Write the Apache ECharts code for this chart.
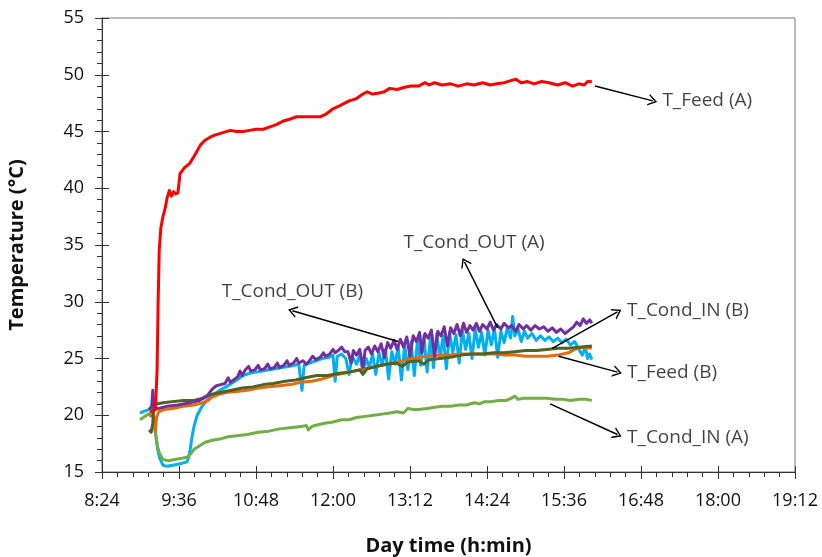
<!DOCTYPE html>
<html>
<head>
<meta charset="utf-8">
<script src="https://cdn.jsdelivr.net/npm/echarts@6/dist/echarts.min.js"></script>
<style>
  html, body { margin: 0; padding: 0; background: #fff; }
  #chart { width: 822px; height: 557px; }
</style>
</head>
<body>
<div id="chart"></div>
<script>
// x values are minutes after midnight (8:24 = 504, 19:12 = 1152)
const xTicks = { min: 504, max: 1152, step: 72 }
const yTicks = { min: 15, max: 55, step: 5 }

// T_Feed (A)
const feedA = [
  [549, 20.3], [554, 20.5], [555.5, 24], [556.5, 30], [557.5, 34.5], [559, 36.5], [561, 37.5], [563, 38.2],
  [565, 39.2], [567, 39.8], [569, 39.3], [571, 39.7], [573, 39.5], [575, 39.6], [577, 41.3], [581, 41.8],
  [586, 42.2], [590, 42.8], [596, 43.8], [600, 44.2], [605, 44.5], [610, 44.7], [617, 44.9], [624, 45.1],
  [630, 45.0], [636, 45.0], [642, 45.1], [648, 45.2], [655, 45.2], [661, 45.4], [667, 45.6], [673, 45.9],
  [680, 46.1], [686, 46.3], [693, 46.3], [700, 46.3], [708, 46.3], [713, 46.5], [720, 47.0], [727, 47.3],
  [735, 47.7], [742, 47.9], [748, 48.3], [752, 48.5], [757, 48.3], [763, 48.4], [768, 48.5], [773, 48.8],
  [780, 48.7], [787, 48.9], [793, 49.0], [800, 49.0], [806, 49.3], [810, 49.1], [815, 49.3], [822, 49.1],
  [830, 49.2], [837, 49.0], [845, 49.2], [852, 49.1], [860, 49.3], [867, 49.1], [873, 49.2], [880, 49.3],
  [887, 49.5], [891, 49.6], [896, 49.3], [902, 49.4], [908, 49.2], [915, 49.4], [922, 49.3], [930, 49.1],
  [937, 49.3], [944, 49.0], [950, 49.2], [955, 49.1], [958, 49.4], [962, 49.4]
]

// T_Cond_IN (A)
const condInA = [
  [539.5, 19.6], [544, 19.9], [549, 20.2], [552, 19.8], [554, 18.4], [556, 17.2], [558, 16.6], [561, 16.1],
  [566, 16.0], [572, 16.1], [578, 16.2], [583.5, 16.3], [587, 16.6], [590, 17.0], [595, 17.3], [600, 17.6],
  [607, 17.8], [614, 17.9], [622, 18.1], [630, 18.2], [640, 18.3], [650, 18.5], [660, 18.6], [670, 18.8],
  [680, 18.9], [690, 19.0], [695, 19.1], [697, 18.7], [700, 19.0], [703, 19.1], [712, 19.3], [720, 19.4],
  [728, 19.6], [735, 19.6], [742, 19.8], [750, 19.9], [758, 20.0], [766, 20.1], [773, 20.2], [780, 20.3],
  [786, 20.2], [790, 20.6], [795, 20.5], [800, 20.5], [808, 20.6], [815, 20.7], [822, 20.8], [830, 20.8],
  [838, 20.9], [845, 20.9], [852, 21.1], [857, 21.0], [862, 21.2], [868, 21.2], [875, 21.3], [882, 21.3],
  [887, 21.5], [890, 21.7], [893, 21.4], [898, 21.5], [905, 21.5], [912, 21.5], [920, 21.5], [928, 21.4],
  [935, 21.4], [942, 21.3], [950, 21.4], [957, 21.4], [962, 21.3]
]

// T_Cond_OUT (A)
const condOutA = [
  [539.5, 20.2], [545, 20.4], [548, 20.5], [550, 20.7], [552, 20.3], [554, 18.5], [556, 17.0], [558, 16.2],
  [561, 15.6], [565, 15.5], [570, 15.6], [576, 15.7], [580, 15.8], [583.5, 15.9], [585, 16.3], [586.5, 17.0],
  [588, 18.0], [590, 19.0], [593, 20.0], [597, 20.7], [601, 21.2], [605, 21.6], [610, 21.9], [614, 22.2],
  [620, 22.5], [625, 22.8], [630, 23.1], [636, 23.5], [642, 23.7], [648, 23.8], [654, 23.9], [660, 24.0],
  [666, 24.1], [672, 24.2], [678, 24.3], [684, 24.4], [688, 24.5], [691, 22.2], [693, 24.4], [698, 24.6],
  [704, 24.8], [710, 25.0], [716, 25.1], [720, 25.3], [722, 23.0], [724, 25.2], [728, 25.4], [732, 25.0],
  [735, 23.6], [738, 25.2], [742, 24.5], [745, 25.3], [748, 23.8], [751, 25.0], [754, 24.2], [757, 25.4],
  [760, 23.6], [763, 25.5], [766, 24.4], [769, 25.8], [772, 23.2], [775, 25.6], [778, 24.5], [781, 26.0],
  [784, 23.1], [787, 26.2], [790, 24.0], [793, 26.5], [796, 23.5], [799, 26.6], [802, 24.4], [805, 27.0],
  [808, 23.8], [811, 26.8], [814, 24.2], [817, 27.2], [820, 25.0], [823, 27.0], [826, 24.1], [829, 27.3],
  [832, 25.5], [835, 27.1], [838, 24.6], [841, 27.5], [844, 25.8], [847, 27.2], [850, 25.0], [853, 27.6],
  [856, 26.0], [859, 27.3], [862, 25.3], [865, 27.5], [868, 26.2], [871, 27.6], [874, 25.1], [877, 27.4],
  [880, 26.4], [883, 27.7], [886, 26.8], [888, 28.7], [890, 27.0], [893, 27.6], [896, 26.5], [899, 27.4],
  [902, 26.8], [906, 27.2], [910, 26.6], [914, 27.0], [918, 26.6], [922, 26.9], [926, 26.5], [930, 26.8],
  [934, 26.4], [938, 26.7], [942, 26.2], [946, 26.5], [950, 25.8], [953, 25.3], [956, 26.0], [958, 25.0],
  [960, 25.4], [962, 24.9]
]

// T_Feed (B)
const feedB = [
  [548, 19.9], [551.5, 20.1], [553, 19.5], [554, 18.6], [555, 19.8], [557, 20.3], [562, 20.5], [570, 20.6],
  [580, 20.8], [590, 20.9], [598, 21.1], [603, 21.3], [607, 21.6], [612, 21.8], [620, 22.0], [630, 22.1],
  [640, 22.2], [650, 22.4], [660, 22.5], [670, 22.6], [680, 22.7], [690, 22.9], [700, 23.0], [710, 23.2],
  [720, 23.5], [730, 23.7], [740, 23.9], [750, 24.1], [760, 24.3], [770, 24.5], [780, 24.7], [790, 24.9],
  [800, 25.1], [810, 25.2], [820, 25.3], [830, 25.3], [840, 25.4], [850, 25.4], [860, 25.4], [870, 25.4],
  [880, 25.3], [890, 25.3], [900, 25.2], [910, 25.2], [920, 25.2], [930, 25.3], [940, 25.5], [946, 25.8],
  [950, 25.9], [955, 26.0], [962, 25.9]
]

// T_Cond_IN (B)
const condInB = [
  [548, 18.7], [550, 18.5], [551.5, 19.3], [552.5, 20.9], [555, 21.0], [561, 21.1], [570, 21.2], [580, 21.3],
  [590, 21.3], [598, 21.5], [605, 21.8], [614, 22.0], [625, 22.2], [635, 22.4], [645, 22.5], [655, 22.7],
  [664, 22.8], [675, 23.0], [685, 23.1], [694, 23.3], [705, 23.5], [715, 23.5], [726, 23.7], [735, 23.8],
  [745, 24.0], [748, 23.6], [752, 24.1], [760, 24.3], [770, 24.5], [779, 24.6], [785, 24.3], [790, 24.7],
  [800, 24.8], [805, 24.5], [810, 24.9], [820, 25.0], [830, 25.1], [840, 25.3], [850, 25.4], [860, 25.4],
  [870, 25.5], [880, 25.5], [890, 25.6], [900, 25.7], [910, 25.7], [920, 25.8], [930, 25.9], [940, 25.9],
  [950, 26.0], [962, 26.1]
]

// T_Cond_OUT (B)
const condOutB = [
  [548, 20.5], [550.5, 20.8], [551.5, 22.2], [552.5, 21.0], [554, 20.6], [557, 20.6], [565, 20.8], [575, 20.9],
  [586, 21.1], [595, 21.3], [599, 21.5], [603, 21.8], [607, 22.3], [611, 22.6], [615, 22.7], [619, 22.8],
  [622, 23.3], [624, 22.9], [627, 23.1], [631, 23.4], [633, 23.9], [635, 23.5], [638, 24.0], [641, 24.3],
  [643, 23.9], [647, 24.0], [650, 24.4], [652, 24.0], [656, 24.1], [659, 24.5], [661, 24.1], [665, 24.2],
  [668, 24.6], [670, 24.2], [674, 24.4], [677, 24.8], [679, 24.4], [683, 24.6], [686, 25.0], [688, 24.6],
  [692, 24.8], [695, 24.5], [698, 24.8], [701, 25.2], [704, 24.9], [708, 25.1], [711, 25.5], [713, 25.2],
  [717, 25.4], [720, 25.8], [722, 25.5], [725, 25.7], [728, 26.0], [731, 25.6], [734, 25.6], [737, 24.6],
  [739, 25.7], [742, 25.3], [745, 25.8], [748, 24.2], [750, 25.7], [753, 26.0], [756, 25.4], [759, 26.1],
  [762, 25.6], [765, 26.3], [768, 25.1], [771, 26.4], [774, 25.9], [777, 26.6], [780, 25.8], [783, 26.7],
  [786, 26.0], [789, 26.9], [792, 25.2], [795, 27.0], [798, 26.5], [801, 27.3], [803, 25.5], [806, 27.2],
  [809, 26.8], [812, 27.5], [815, 25.2], [818, 27.4], [821, 27.0], [824, 27.8], [827, 26.1], [830, 27.7],
  [833, 27.2], [836, 28.0], [839, 27.0], [842, 28.1], [845, 27.3], [848, 27.9], [851, 27.5], [854, 28.1],
  [857, 27.4], [860, 28.0], [864, 27.6], [867, 28.2], [870, 27.5], [873, 28.0], [877, 27.6], [880, 28.1],
  [884, 27.7], [887, 27.9], [891, 27.4], [894, 28.0], [898, 27.6], [901, 27.9], [905, 27.5], [909, 27.9],
  [913, 27.6], [917, 27.8], [921, 27.4], [925, 27.7], [929, 27.3], [933, 27.6], [937, 27.2], [941, 27.5],
  [945, 27.8], [948, 28.2], [951, 27.9], [954, 28.5], [957, 28.1], [960, 28.4], [962, 28.1]
]

// annotation texts: [x, y, text] (left edge of the text)
const labels = [
  [1028, 47.7, 'T_Feed (A)'],
  [786, 35.2, 'T_Cond_OUT (A)'],
  [616, 30.9, 'T_Cond_OUT (B)'],
  [995, 29.2, 'T_Cond_IN (B)'],
  [995, 23.8, 'T_Feed (B)'],
  [995, 18.0, 'T_Cond_IN (A)']
]
// arrows: [x1, y1, x2, y2], head at the second point
const arrows = [
  [965, 49.0, 1019, 47.7],
  [874, 27.7, 843, 33.5],
  [781, 26.5, 682, 29.2],
  [925, 25.9, 986, 29.1],
  [931, 25.2, 986, 23.8],
  [923, 21.0, 986, 18.3]
]

const font = "'Open Sans', 'Noto Sans', sans-serif"
const textColor = '#111'
const arrowHead = 'path://M0,10 L5,0 L10,10 L8.6,10 L5,2.8 L1.4,10 Z'

function hm (v) {
  const h = Math.floor(v / 60)
  const m = Math.round(v - h * 60)
  return h + ':' + (m < 10 ? '0' + m : m)
}

function lineSeries (name, data, color) {
  return {
    name: name,
    type: 'line',
    data: data,
    showSymbol: false,
    symbol: 'none',
    lineStyle: { color: color, width: 3, join: 'round' },
    z: 2
  }
}

const chart = echarts.init(document.getElementById('chart'))

const option = {
  animation: false,
  grid: {
    left: 102,
    right: 27,
    top: 18,
    bottom: 85,
    outerBoundsMode: 'none',
    show: true,
    borderColor: '#7a7a7a',
    borderWidth: 1
  },
  xAxis: [
    {
      type: 'value',
      min: xTicks.min,
      max: xTicks.max,
      interval: xTicks.step,
      name: 'Day time (h:min)',
      nameLocation: 'middle',
      nameGap: 64,
      nameTextStyle: { fontFamily: font, fontSize: 20, fontWeight: 'bold', color: textColor },
      axisLine: { lineStyle: { color: '#333', width: 1 } },
      axisTick: { show: true, length: 7, lineStyle: { color: '#333' } },
      minorTick: { show: true, splitNumber: 5, length: 5, lineStyle: { color: '#333' } },
      splitLine: { show: false },
      axisLabel: { margin: 20, fontFamily: font, fontSize: 18, color: textColor, formatter: hm }
    },
    {
      // inner half of the major ticks
      type: 'value',
      position: 'bottom',
      min: xTicks.min,
      max: xTicks.max,
      interval: xTicks.step,
      axisLine: { show: false },
      axisTick: { show: true, inside: true, length: 6, lineStyle: { color: '#333' } },
      axisLabel: { show: false },
      splitLine: { show: false }
    }
  ],
  yAxis: [
    {
      type: 'value',
      min: yTicks.min,
      max: yTicks.max,
      interval: yTicks.step,
      name: 'Temperature (°C)',
      nameLocation: 'middle',
      nameGap: 75,
      nameTextStyle: { fontFamily: font, fontSize: 20, fontWeight: 'bold', color: textColor },
      axisLine: { show: true, lineStyle: { color: '#333', width: 1 } },
      axisTick: { show: true, length: 7, lineStyle: { color: '#333' } },
      minorTick: { show: true, splitNumber: 5, length: 5, lineStyle: { color: '#333' } },
      splitLine: { show: false },
      axisLabel: { margin: 18, fontFamily: font, fontSize: 18, color: textColor }
    },
    {
      type: 'value',
      position: 'left',
      min: yTicks.min,
      max: yTicks.max,
      interval: yTicks.step,
      axisLine: { show: false },
      axisTick: { show: true, inside: true, length: 7, lineStyle: { color: '#333' } },
      axisLabel: { show: false },
      splitLine: { show: false }
    }
  ],
  series: [
    lineSeries('T_Cond_OUT (A)', condOutA, '#00B0F0'),
    lineSeries('T_Cond_IN (A)', condInA, '#72AD47'),
    lineSeries('T_Feed (B)', feedB, '#E46C0A'),
    lineSeries('T_Cond_IN (B)', condInB, '#4F6228'),
    lineSeries('T_Cond_OUT (B)', condOutB, '#7030A0'),
    lineSeries('T_Feed (A)', feedA, '#FF0000'),
    {
      name: 'notes',
      type: 'scatter',
      data: labels,
      symbolSize: 0,
      silent: true,
      z: 5,
      label: {
        show: true,
        position: 'right',
        distance: 0,
        fontFamily: font,
        fontSize: 19,
        color: textColor,
        formatter: p => p.data[2]
      },
      markLine: {
        silent: true,
        animation: false,
        symbol: ['none', arrowHead],
        symbolSize: [12, 9],
        label: { show: false },
        lineStyle: { color: '#000', width: 1.5, type: 'solid' },
        data: arrows.map(a => [{ coord: [a[0], a[1]] }, { coord: [a[2], a[3]] }])
      }
    }
  ]
}

chart.setOption(option)
</script>
</body>
</html>
